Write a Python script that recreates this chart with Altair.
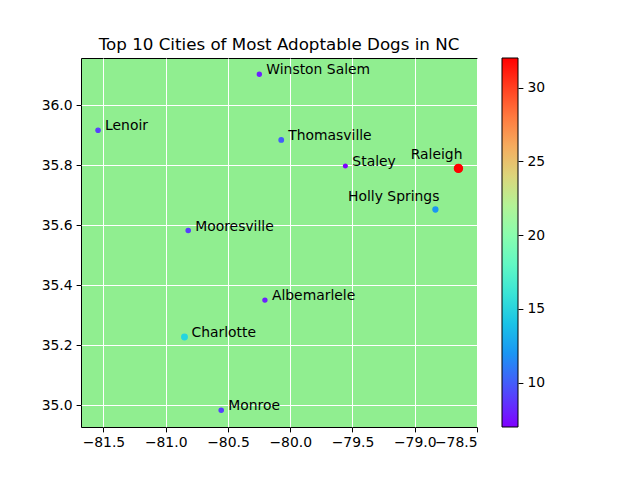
import altair as alt
import pandas as pd

cities = ["Winston Salem", "Lenoir", "Thomasville", "Staley", "Raleigh",
          "Holly Springs", "Mooresville", "Albemarlele", "Charlotte", "Monroe"]
longitude = [-80.248, -81.543, -80.072, -79.557, -78.649,
             -78.834, -80.819, -80.203, -80.849, -80.554]
latitude = [36.104, 35.917, 35.885, 35.798, 35.790,
            35.653, 35.583, 35.351, 35.228, 34.984]
dogs = [8, 9, 10, 7, 32, 12, 9, 8, 15, 9]

left_labeled = ["Raleigh", "Holly Springs"]

x_ticks = [-81.5, -81.0, -80.5, -80.0, -79.5, -79.0, -78.5]
y_ticks = [35.0, 35.2, 35.4, 35.6, 35.8, 36.0]
cbar_ticks = [10, 15, 20, 25, 30]
cbar_limits = [7, 32]

# matplotlib "rainbow" colormap stops over the colour range 7..32
cmap_domain = [7, 9.5, 12, 14.5, 17, 19.5, 22, 24.5, 27, 29.5, 32]
cmap_range = ["#8000ff", "#4d4ffc", "#1a96f3", "#1acee3", "#4df3ce", "#80ffb4",
              "#b3f396", "#e6ce74", "#ff964f", "#ff4f28", "#ff0000"]

df = pd.DataFrame({"city": cities, "lon": longitude, "lat": latitude, "dogs": dogs})
df["side"] = ["left" if c in left_labeled else "right" for c in cities]
ticks_df = pd.DataFrame({"v": cbar_ticks})

FONT = "DejaVu Sans"

xscale = alt.Scale(domain=[-81.68, -78.5], nice=False, zero=False)
yscale = alt.Scale(domain=[34.928, 36.158], nice=False, zero=False)
cscale = alt.Scale(domain=cmap_domain, range=cmap_range, interpolate="rgb")

base = alt.Chart(df).encode(
    x=alt.X("lon:Q", scale=xscale,
            axis=alt.Axis(values=x_ticks, format=".1f", title=None, labelOverlap=False)),
    y=alt.Y("lat:Q", scale=yscale,
            axis=alt.Axis(orient="left", values=y_ticks, format=".1f", title=None,
                          labelOverlap=False)),
)

points = base.transform_calculate(
    dogs_edge="datum.dogs", dogs_area="datum.dogs"
).mark_circle(opacity=1, strokeWidth=1.3).encode(
    color=alt.Color("dogs:Q", scale=cscale,
                    legend=alt.Legend(type="gradient", title=None, orient="none",
                                      legendX=421, legendY=0,
                                      direction="vertical", values=cbar_ticks,
                                      gradientLength=369, gradientThickness=16,
                                      gradientStrokeColor="black", gradientStrokeWidth=1,
                                      labelExpr="''", labelFontSize=13.9, labelFont=FONT,
                                      labelOverlap=False)),
    stroke=alt.Stroke("dogs_edge:Q", scale=cscale, legend=None),
    size=alt.Size("dogs_area:Q", scale=alt.Scale(domain=[0, 100], range=[0, 205]), legend=None),
)

labels_right = base.transform_filter(alt.datum.side == "right").mark_text(
    align="left", baseline="alphabetic", dx=7, dy=0,
    fontSize=13.9, font=FONT, color="black"
).encode(text="city:N")

labels_left = base.transform_filter(alt.datum.side == "left").mark_text(
    align="right", baseline="alphabetic", dx=4, dy=-9,
    fontSize=13.9, font=FONT, color="black"
).encode(text="city:N")

main = alt.layer(points, labels_right, labels_left).resolve_scale(stroke="independent")

# colorbar tick marks and labels as a right-hand axis
cbar_axis = alt.Chart(ticks_df).mark_point(opacity=0).encode(
    y=alt.Y("v:Q", scale=alt.Scale(domain=cbar_limits, nice=False, zero=False),
            axis=alt.Axis(orient="right", offset=41, values=cbar_ticks, grid=False,
                          title=None, format="d", labelOverlap=False)),
)

chart = alt.layer(main, cbar_axis).resolve_scale(y="independent").properties(
    width=396, height=369,
    title=alt.TitleParams("Top 10 Cities of Most Adoptable Dogs in NC",
                          fontSize=16.7, font=FONT, fontWeight="normal", color="black",
                          anchor="middle", frame="group", baseline="alphabetic", offset=-9),
    autosize=alt.AutoSizeParams(type="none"),
    padding={"left": 81, "top": 58, "right": 163, "bottom": 53},
    background="white",
).configure_view(
    fill="#90ee90", stroke="black", strokeWidth=1
).configure_axis(
    labelFont=FONT, labelFontSize=13.9, labelColor="black",
    tickColor="black", tickSize=4.9, tickWidth=1, labelPadding=4,
    domain=False, grid=True, gridColor="white", gridWidth=1, gridOpacity=1,
)

chart.save("out.html", embed_options={"renderer": "svg", "actions": False})
